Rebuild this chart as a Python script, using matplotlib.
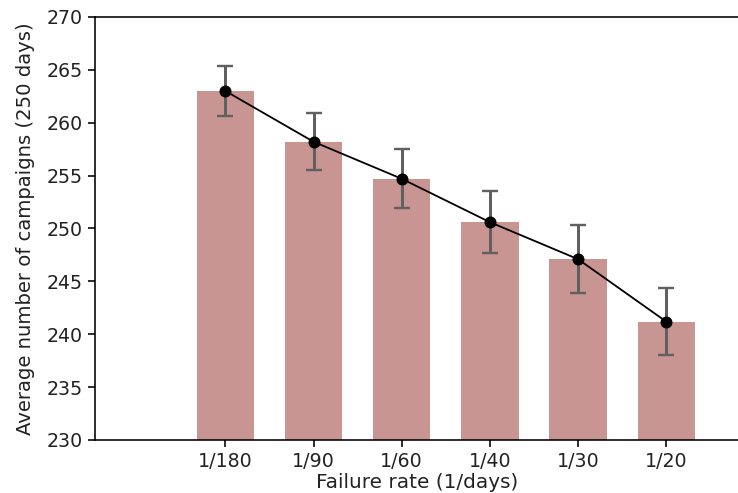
import matplotlib
matplotlib.use("Agg")
import matplotlib.pyplot as plt
import numpy as np

categories = ["1/180", "1/90", "1/60", "1/40", "1/30", "1/20"]
means = [263.0, 258.2, 254.7, 250.6, 247.1, 241.2]
errors = [2.4, 2.7, 2.8, 2.9, 3.2, 3.2]

fig = plt.figure(figsize=(738/144, 493/144), dpi=144)
ax = fig.add_axes([95/738, 53/493, 1.003 - 95/738, (440-17)/493])

x = np.arange(1, len(categories) + 1)
ax.bar(x, means, width=0.65, color="#c99593", zorder=1)
ax.errorbar(x, means, yerr=errors, fmt="none", ecolor="#606060",
            elinewidth=1.5, capsize=4, capthick=1.2, zorder=2)
ax.plot(x, means, color="black", lw=0.9, marker="o", markersize=5, zorder=3)

ax.set_xlim(-0.48, 6.84)
ax.set_ylim(230, 270)
ax.set_yticks(np.arange(230, 271, 5))
ax.set_xticks(x)
ax.set_xticklabels(categories)
ax.tick_params(axis="both", labelsize=9.5, pad=2.5, colors="black", labelcolor="#222222")
ax.set_xlabel("Failure rate (1/days)", labelpad=1, color="#222222")
ax.set_ylabel("Average number of campaigns (250 days)", color="#222222",
              fontsize=9.8, labelpad=6)

fig.savefig("out.png", dpi=144)
